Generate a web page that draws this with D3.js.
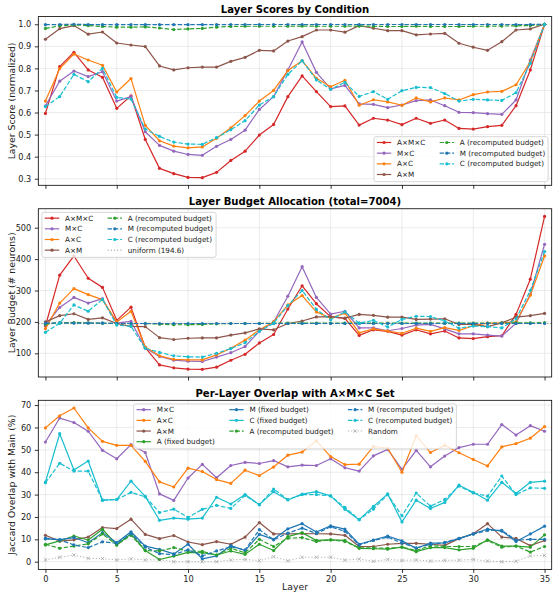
<!DOCTYPE html>
<html>
<head>
<meta charset="utf-8">
<script src="https://cdn.jsdelivr.net/npm/d3@7"></script>
<style>
body { margin: 0; background: #fff; }
text { font-family: "DejaVu Sans", sans-serif; }
</style>
</head>
<body>
<div id="chart"></div>
<script>

var layers = [0,1,2,3,4,5,6,7,8,9,10,11,12,13,14,15,16,17,18,19,20,21,22,23,24,25,26,27,28,29,30,31,32,33,34,35];
var xTicks = [0,5,10,15,20,25,30,35];

// layer scores (normalized)
var scoreAMC = [0.596,0.808,0.873,0.793,0.760,0.619,0.676,0.478,0.347,0.323,0.306,0.305,0.329,0.383,0.425,0.498,0.546,0.672,0.766,0.695,0.627,0.630,0.543,0.574,0.566,0.545,0.574,0.551,0.566,0.528,0.525,0.536,0.542,0.631,0.793,1.0];
var scoreMC = [0.630,0.742,0.788,0.763,0.785,0.652,0.672,0.513,0.451,0.425,0.410,0.406,0.447,0.478,0.520,0.614,0.672,0.793,0.920,0.782,0.707,0.723,0.639,0.637,0.622,0.634,0.654,0.657,0.631,0.601,0.600,0.595,0.592,0.657,0.838,1.0];
var scoreAC = [0.652,0.799,0.865,0.838,0.814,0.693,0.754,0.542,0.472,0.448,0.440,0.444,0.483,0.531,0.586,0.652,0.700,0.790,0.835,0.755,0.717,0.746,0.633,0.658,0.648,0.633,0.666,0.648,0.666,0.657,0.681,0.693,0.696,0.726,0.830,1.0];
var scoreAM = [0.932,0.980,0.994,0.955,0.965,0.915,0.906,0.899,0.811,0.793,0.803,0.806,0.806,0.832,0.850,0.882,0.879,0.924,0.944,0.974,0.974,0.964,0.994,0.982,0.971,0.971,0.952,0.956,0.959,0.914,0.896,0.882,0.921,0.974,0.979,1.0];
var scoreArec = [0.981,0.993,0.997,0.994,0.990,0.987,0.987,0.988,0.983,0.976,0.979,0.981,0.987,0.990,0.991,0.991,0.991,0.991,0.992,0.991,0.991,0.991,0.992,0.991,0.990,0.990,0.991,0.990,0.990,0.990,0.991,0.991,0.992,0.993,0.994,1.0];
var scoreMrec = [0.998,0.999,1.0,0.999,0.998,0.998,0.998,0.998,0.998,0.998,0.998,0.998,0.998,0.999,0.999,0.999,0.999,0.999,0.999,0.999,0.999,0.999,0.999,0.999,0.999,0.999,0.999,0.999,0.999,0.999,0.999,0.999,0.999,0.999,0.999,1.0];
var scoreCrec = [0.627,0.672,0.773,0.740,0.800,0.669,0.661,0.525,0.492,0.466,0.457,0.456,0.486,0.522,0.563,0.634,0.672,0.773,0.835,0.748,0.705,0.737,0.673,0.695,0.660,0.699,0.714,0.713,0.686,0.652,0.660,0.657,0.655,0.690,0.823,1.0];

// layer budgets (# neurons)
var budgetAMC = [187,349,410,339,310,205,247,118,63,54,50,49,56,78,97,133,160,241,315,258,216,211,157,175,170,158,175,162,171,149,147,153,156,224,336,536];
var budgetMC = [190,246,278,260,274,196,202,117,90,78,75,74,88,102,122,170,200,282,376,278,225,234,181,181,172,179,190,192,178,162,162,158,155,196,288,447];
var budgetAC = [178,260,306,287,271,200,234,120,92,81,79,79,95,116,142,175,200,254,284,232,212,228,165,178,171,164,180,170,182,173,188,196,197,200,285,410];
var budgetAM = [200,220,226,208,213,195,186,185,150,144,148,149,149,158,165,178,175,195,203,216,217,212,224,221,215,215,208,209,210,192,192,185,197,215,220,227];
var budgetArec = [193,198,198,197,196,195,195,195,193,191,191,192,194,195,195,195,196,196,196,196,196,196,196,196,196,196,196,196,196,196,196,196,196,197,197,198];
var budgetMrec = [196,196,196,196,196,195,195,195,195,195,195,195,195,195,195,195,195,195,195,195,195,195,195,195,195,195,195,195,195,195,195,195,195,195,195,195];
var budgetCrec = [167,196,254,234,272,190,186,116,103,92,89,88,100,115,134,170,196,252,300,240,207,232,196,205,184,208,218,217,203,180,187,185,181,210,300,424];
var uniformBudget = 194.6;

// Jaccard overlap with main A×M×C set (%)
var overlapMC = [53.5,64.2,62.2,58.3,49.8,46.0,52.3,48.8,30.3,27.4,37.4,43.5,37.5,43.0,44.4,43.9,45.2,42.4,43.2,43.0,46.0,42.0,40.5,47.3,50.2,41.3,49.8,42.4,47.2,51.0,52.5,52.5,61.3,56.6,60.8,58.3];
var overlapAC = [59.8,65.2,68.7,59.8,53.8,52.0,52.0,44.8,35.7,33.4,41.8,40.3,36.7,35.0,40.9,38.5,42.3,47.6,49.0,54.0,47.0,43.4,43.6,51.5,50.7,40.0,56.3,48.8,52.0,48.7,45.7,42.8,51.3,52.8,55.2,60.4];
var overlapAM = [11.8,9.2,9.8,11.0,15.3,14.8,19.0,12.2,10.3,11.7,8.8,7.6,9.0,7.8,11.0,17.5,12.4,12.4,12.6,12.5,12.4,11.8,6.8,6.8,7.8,8.2,8.2,7.8,7.3,10.3,12.5,17.0,11.0,10.4,7.2,9.5];
var overlapAfix = [7.5,9.3,11.5,9.7,14.5,7.5,12.5,5.0,1.0,2.5,4.2,4.0,3.0,4.8,3.3,7.8,5.0,11.2,13.0,9.5,9.8,9.5,6.0,5.8,5.6,6.5,4.5,6.3,6.3,5.3,6.0,9.8,7.0,7.0,6.5,12.0];
var overlapMfix = [10.2,9.9,10.8,8.5,13.0,8.5,13.4,7.0,5.5,3.5,7.8,1.3,2.6,7.2,5.0,12.2,10.0,14.7,17.0,13.3,16.0,14.6,7.8,9.7,11.5,9.3,6.0,8.3,8.4,10.3,12.5,14.6,13.7,9.0,12.4,15.9];
var overlapCfix = [35.6,57.2,41.0,45.0,27.5,27.8,36.0,29.2,18.5,19.5,19.0,19.5,28.8,25.8,30.0,25.5,31.3,27.6,30.2,31.3,29.4,23.4,18.8,24.7,30.3,17.8,27.5,23.8,26.5,34.2,31.0,27.5,35.5,30.5,35.5,36.0];
var overlapArec = [7.8,6.0,7.0,8.0,12.4,7.5,11.8,5.0,4.8,6.3,4.8,4.6,3.0,6.0,4.0,10.0,6.8,10.5,10.8,9.0,9.8,9.0,6.2,6.2,6.0,6.5,5.0,7.2,6.8,6.8,6.8,9.5,6.5,7.0,4.3,6.8];
var overlapMrec = [10.5,9.8,7.5,6.3,8.9,8.3,12.5,6.5,3.6,3.2,5.3,2.6,4.8,6.7,5.3,14.3,9.8,12.8,15.0,12.6,15.6,13.6,7.5,9.5,11.0,8.3,6.2,7.7,8.6,10.4,12.3,14.0,14.0,9.6,10.0,10.0];
var overlapCrec = [35.3,44.0,40.5,40.5,27.5,27.8,31.0,29.0,22.0,23.5,19.8,23.4,25.2,23.8,29.6,25.5,32.5,27.8,30.0,30.0,29.4,24.3,18.8,23.5,30.0,20.5,30.7,24.8,27.8,33.8,30.7,29.3,38.3,30.0,33.0,32.8];
var overlapRandom = [0.8,2.0,3.0,1.5,1.4,0.8,1.3,0.8,0.9,0.0,0.0,0.0,0.0,0.8,1.0,0.5,2.2,0.4,2.0,2.0,2.0,0.7,1.2,0.2,1.0,0.6,0.8,0.3,0.6,0.7,1.0,0.3,0.0,0.2,2.6,2.8];

var width = 560, height = 599;
var axLeft = 38.3, axRight = 551.7;
var fsTick = 8.2, fsLabel = 9.3, fsTitle = 10.1, fsLegend = 7.2;
var dashed = "4.4,1.9", dotted = "1.2,2";

var svg = d3.select("#chart")
    .append("svg")
    .attr("width", width)
    .attr("height", height);

var x = d3.scaleLinear()
    .domain([-0.5, 35.5])
    .range([axLeft, axRight]);

function paddedDomain(arrays) {
    var e = d3.extent(d3.merge(arrays));
    var p = (e[1] - e[0]) * 0.05;
    return [e[0] - p, e[1] + p];
}

function textWidth(str) {
    var t = svg.append("text").attr("font-size", fsLegend).text(str);
    var w = t.node().getComputedTextLength();
    t.remove();
    return w;
}

function drawMarker(g, kind, cx, cy, color) {
    if (kind == "x") {
        var s = 1.7;
        g.append("path")
            .attr("d", "M" + (cx - s) + "," + (cy - s) + "L" + (cx + s) + "," + (cy + s) +
                "M" + (cx - s) + "," + (cy + s) + "L" + (cx + s) + "," + (cy - s))
            .attr("stroke", color).attr("stroke-width", 0.9);
    } else if (kind == "o") {
        g.append("circle").attr("cx", cx).attr("cy", cy).attr("r", 1.6).attr("fill", color);
    }
}

function drawLegend(g, items, ncol, loc, top, bottom) {
    var rowH = 10.67, pad = 2.9, handleLen = 14.4, handlePad = 5.8, colSpace = 14.4;
    var n = items.length;
    var base = Math.floor(n / ncol), large = n % ncol;
    var cols = [], k = 0;
    for (var c = 0; c < ncol; c++) {
        var cnt = c < large ? base + 1 : base;
        cols.push(items.slice(k, k + cnt));
        k += cnt;
    }
    var colW = cols.map(function(col) {
        return handleLen + handlePad + d3.max(col, function(d) { return textWidth(d.name); });
    });
    var boxW = 2 * pad + d3.sum(colW) + (ncol - 1) * colSpace;
    var maxRows = d3.max(cols, function(col) { return col.length; });
    var boxH = 5.8 + (maxRows - 1) * rowH + 7.2;
    var bx, by;
    if (loc == "lower right") { bx = axRight - 3.6 - boxW; by = bottom - 3.6 - boxH; }
    else if (loc == "upper left") { bx = axLeft + 3.6; by = top + 3.6; }
    else { bx = (axLeft + axRight) / 2 - boxW / 2; by = top + 3.6; }

    var lg = g.append("g").attr("class", "legend");
    lg.append("rect")
        .attr("x", bx).attr("y", by).attr("width", boxW).attr("height", boxH)
        .attr("rx", 2).attr("fill", "white").attr("fill-opacity", 0.8)
        .attr("stroke", "#cccccc").attr("stroke-width", 0.8);

    var cx0 = bx + pad;
    cols.forEach(function(col, ci) {
        col.forEach(function(d, ri) {
            var cy = by + 5.8 + ri * rowH;
            lg.append("line")
                .attr("x1", cx0).attr("x2", cx0 + handleLen)
                .attr("y1", cy).attr("y2", cy)
                .attr("stroke", d.color).attr("stroke-width", d.width || 1.2)
                .attr("stroke-opacity", d.opacity || 1)
                .attr("stroke-dasharray", d.dash || null);
            var mg = lg.append("g").attr("opacity", d.opacity || 1);
            drawMarker(mg, d.marker, cx0 + handleLen / 2, cy, d.color);
            lg.append("text")
                .attr("x", cx0 + handleLen + handlePad).attr("y", cy)
                .attr("dy", "0.35em")
                .attr("font-size", fsLegend)
                .attr("fill", "#222")
                .text(d.name);
        });
        cx0 += colW[ci] + colSpace;
    });
}

function drawPanel(cfg) {
    var g = svg.append("g");
    var y = d3.scaleLinear()
        .domain(paddedDomain(cfg.series.map(function(s) { return s.values; })))
        .range([cfg.bottom, cfg.top]);

    // grid
    g.selectAll(".gx").data(xTicks).enter().append("line")
        .attr("x1", function(d) { return x(d); }).attr("x2", function(d) { return x(d); })
        .attr("y1", cfg.top).attr("y2", cfg.bottom)
        .attr("stroke", "#b0b0b0").attr("stroke-opacity", 0.3).attr("stroke-width", 0.8);
    g.selectAll(".gy").data(cfg.yTicks).enter().append("line")
        .attr("x1", axLeft).attr("x2", axRight)
        .attr("y1", function(d) { return y(d); }).attr("y2", function(d) { return y(d); })
        .attr("stroke", "#b0b0b0").attr("stroke-opacity", 0.3).attr("stroke-width", 0.8);

    var plot = g.append("g");

    if (cfg.hline) {
        plot.append("line")
            .attr("x1", axLeft).attr("x2", axRight)
            .attr("y1", y(cfg.hline.value)).attr("y2", y(cfg.hline.value))
            .attr("stroke", cfg.hline.color).attr("stroke-width", 1)
            .attr("stroke-dasharray", cfg.hline.dash);
    }

    var line = d3.line()
        .x(function(d, i) { return x(layers[i]); })
        .y(function(d) { return y(d); });

    cfg.series.forEach(function(s) {
        var sg = plot.append("g").attr("opacity", s.opacity || 1);
        sg.append("path")
            .attr("d", line(s.values))
            .attr("fill", "none")
            .attr("stroke", s.color)
            .attr("stroke-width", s.width || 1.2)
            .attr("stroke-dasharray", s.dash || null)
            .attr("stroke-linejoin", "round");
        s.values.forEach(function(v, i) {
            drawMarker(sg, s.marker, x(layers[i]), y(v), s.color);
        });
    });

    // spines
    g.append("rect")
        .attr("x", axLeft).attr("y", cfg.top)
        .attr("width", axRight - axLeft).attr("height", cfg.bottom - cfg.top)
        .attr("fill", "none").attr("stroke", "#000").attr("stroke-width", 0.8);

    // axes
    var yAxis = d3.axisLeft(y).tickValues(cfg.yTicks).tickFormat(cfg.yFormat)
        .tickSize(3.5).tickPadding(3.5);
    var ya = g.append("g").attr("transform", "translate(" + axLeft + ",0)").call(yAxis);
    ya.select(".domain").remove();
    ya.selectAll("text").attr("font-size", fsTick).attr("fill", "#222").attr("font-family", "DejaVu Sans");
    ya.selectAll("line").attr("stroke-width", 0.8);

    var xAxis = d3.axisBottom(x).tickValues(xTicks).tickSize(3.5).tickPadding(3.5);
    if (!cfg.xLabels) xAxis.tickFormat("");
    var xa = g.append("g").attr("transform", "translate(0," + cfg.bottom + ")").call(xAxis);
    xa.select(".domain").remove();
    xa.selectAll("text").attr("font-size", fsTick).attr("fill", "#222").attr("font-family", "DejaVu Sans");
    xa.selectAll("line").attr("stroke-width", 0.8);

    g.append("text")
        .attr("x", (axLeft + axRight) / 2).attr("y", cfg.top - 3.5)
        .attr("text-anchor", "middle")
        .attr("font-size", fsTitle).attr("font-weight", "bold")
        .text(cfg.title);

    g.append("text")
        .attr("transform", "translate(12," + ((cfg.top + cfg.bottom) / 2) + ") rotate(-90)")
        .attr("text-anchor", "middle").attr("dy", "0.35em")
        .attr("font-size", fsLabel).attr("fill", "#222")
        .text(cfg.yLabel);

    if (cfg.xLabels) {
        g.append("text")
            .attr("x", (axLeft + axRight) / 2).attr("y", 590)
            .attr("text-anchor", "middle")
            .attr("font-size", fsLabel).attr("fill", "#222")
            .text("Layer");
    }

    var items = cfg.series.slice();
    if (cfg.hline) items.push(cfg.hline);
    drawLegend(g, items, cfg.legendCols, cfg.legendLoc, cfg.top, cfg.bottom);
}

var red = "#d62728", purple = "#9467bd", orange = "#ff7f0e", brown = "#8c564b",
    green = "#2ca02c", blue = "#1f77b4", cyan = "#17becf", gray = "#7f7f7f";

drawPanel({
    top: 16.6, bottom: 185.3,
    title: "Layer Scores by Condition",
    yLabel: "Layer Score (normalized)",
    yTicks: [0.3,0.4,0.5,0.6,0.7,0.8,0.9,1.0],
    yFormat: d3.format(".1f"),
    legendCols: 2, legendLoc: "lower right",
    series: [
        {name: "A×M×C", values: scoreAMC, color: red, marker: "o"},
        {name: "M×C", values: scoreMC, color: purple, marker: "o"},
        {name: "A×C", values: scoreAC, color: orange, marker: "o"},
        {name: "A×M", values: scoreAM, color: brown, marker: "o"},
        {name: "A (recomputed budget)", values: scoreArec, color: green, marker: "o", dash: dashed},
        {name: "M (recomputed budget)", values: scoreMrec, color: blue, marker: "o", dash: dashed},
        {name: "C (recomputed budget)", values: scoreCrec, color: cyan, marker: "o", dash: dashed}
    ]
});

drawPanel({
    top: 208.75, bottom: 377,
    title: "Layer Budget Allocation (total=7004)",
    yLabel: "Layer Budget (# neurons)",
    yTicks: [100,200,300,400,500],
    yFormat: d3.format("d"),
    legendCols: 2, legendLoc: "upper left",
    hline: {name: "uniform (194.6)", value: uniformBudget, color: gray, dash: dotted, width: 1, opacity: 0.8},
    series: [
        {name: "A×M×C", values: budgetAMC, color: red, marker: "o"},
        {name: "M×C", values: budgetMC, color: purple, marker: "o"},
        {name: "A×C", values: budgetAC, color: orange, marker: "o"},
        {name: "A×M", values: budgetAM, color: brown, marker: "o"},
        {name: "A (recomputed budget)", values: budgetArec, color: green, marker: "o", dash: dashed},
        {name: "M (recomputed budget)", values: budgetMrec, color: blue, marker: "o", dash: dashed},
        {name: "C (recomputed budget)", values: budgetCrec, color: cyan, marker: "o", dash: dashed}
    ]
});

drawPanel({
    top: 400.3, bottom: 569.4,
    title: "Per-Layer Overlap with A×M×C Set",
    yLabel: "Jaccard Overlap with Main (%)",
    yTicks: [0,10,20,30,40,50,60,70],
    yFormat: d3.format("d"),
    xLabels: true,
    legendCols: 3, legendLoc: "upper center",
    series: [
        {name: "M×C", values: overlapMC, color: purple, marker: "o"},
        {name: "A×C", values: overlapAC, color: orange, marker: "o"},
        {name: "A×M", values: overlapAM, color: brown, marker: "o"},
        {name: "A (fixed budget)", values: overlapAfix, color: green, marker: "o"},
        {name: "M (fixed budget)", values: overlapMfix, color: blue, marker: "o"},
        {name: "C (fixed budget)", values: overlapCfix, color: cyan, marker: "o"},
        {name: "A (recomputed budget)", values: overlapArec, color: green, marker: "o", dash: dashed},
        {name: "M (recomputed budget)", values: overlapMrec, color: blue, marker: "o", dash: dashed},
        {name: "C (recomputed budget)", values: overlapCrec, color: cyan, marker: "o", dash: dashed},
        {name: "Random", values: overlapRandom, color: gray, marker: "x", dash: dotted, width: 1, opacity: 0.6}
    ]
});

</script>
</body>
</html>
